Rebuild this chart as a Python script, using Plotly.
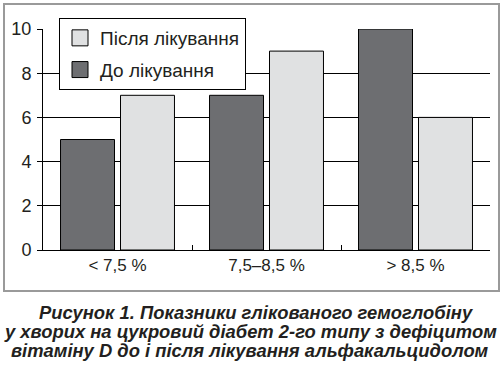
import plotly.graph_objects as go

categories = ["< 7,5 %", "7,5–8,5 %", "> 8,5 %"]
before_name = "До лікування"
after_name = "Після лікування"
before_values = [5, 7, 10]
after_values = [7, 9, 6]
y_ticks = [0, 2, 4, 6, 8, 10]
caption_lines = [
    "Рисунок 1. Показники глікованого гемоглобіну",
    "у хворих на цукровий діабет 2-го типу з дефіцитом",
    "вітаміну D до і після лікування альфакальцидолом",
]

DARK = "#6d6e71"
LIGHT = "#e0e1e2"
TXT = "#231f20"

W, H = 504, 369
L, R, T, B = 43, 490, 29, 250  # plot area pixel bounds
pw, ph = R - L, B - T


def px_x(x):
    return (x - L) / pw


def px_y(y):
    return (B - y) / ph


fig = go.Figure()
fig.add_trace(go.Bar(x=categories, y=before_values, name=before_name,
                     marker=dict(color=DARK, line=dict(color="black", width=1)),
                     showlegend=False))
fig.add_trace(go.Bar(x=categories, y=after_values, name=after_name,
                     marker=dict(color=LIGHT, line=dict(color="black", width=1)),
                     showlegend=False))
# legend entries
fig.add_trace(go.Scatter(x=[None], y=[None], mode="markers", name=after_name,
                         legendgroup="a", legendrank=1,
                         marker=dict(symbol="square", size=16, color=LIGHT,
                                     line=dict(color="black", width=1))))
fig.add_trace(go.Scatter(x=[None], y=[None], mode="markers", name=before_name,
                         legendgroup="b", legendrank=2,
                         marker=dict(symbol="square", size=16, color=DARK,
                                     line=dict(color="black", width=1))))

fig.update_layout(
    width=W, height=H,
    margin=dict(l=L, r=W - R, t=T, b=H - B, autoexpand=False),
    paper_bgcolor="white", plot_bgcolor="white",
    barmode="group", bargap=0.195, bargroupgap=0.1,
    font=dict(family="Liberation Sans, Arial, sans-serif", color=TXT),
    legend=dict(x=px_x(59), y=px_y(18), xanchor="left", yanchor="top",
                bgcolor="white", bordercolor="black", borderwidth=1,
                font=dict(size=19, color=TXT), tracegroupgap=4,
                traceorder="grouped", itemsizing="trace", itemwidth=30),
    xaxis=dict(showline=True, linecolor="black", linewidth=1, automargin=False,
               ticks="inside", ticklen=5, tickcolor="black", tickson="boundaries",
               tickfont=dict(size=17, color=TXT), showgrid=False, fixedrange=True),
    yaxis=dict(range=[0, 10], tickvals=y_ticks, showline=True, linecolor="black",
               linewidth=1, ticks="outside", ticklen=5, tickcolor="black",
               showgrid=True, gridcolor="black", gridwidth=1, zeroline=False,
               automargin=False,
               tickfont=dict(size=18, color=TXT), ticklabelstandoff=2),
    shapes=[dict(type="rect", xref="paper", yref="paper",
                 x0=px_x(4), x1=px_x(499), y0=px_y(291), y1=px_y(4),
                 line=dict(color="#9a9a9a", width=2), layer="below")],
)

for line, xpx, ypx in zip(caption_lines, [256, 250, 250], [312, 331, 350]):
    fig.add_annotation(text=f"<b><i>{line}</i></b>", xref="paper", yref="paper",
                       x=px_x(xpx), y=px_y(ypx), xanchor="center", yanchor="middle",
                       showarrow=False, font=dict(size=18.4, color=TXT))

fig.write_html("out.html", config={"displayModeBar": False},
               post_script="document.body.style.margin='0';document.body.style.overflow='hidden';")
